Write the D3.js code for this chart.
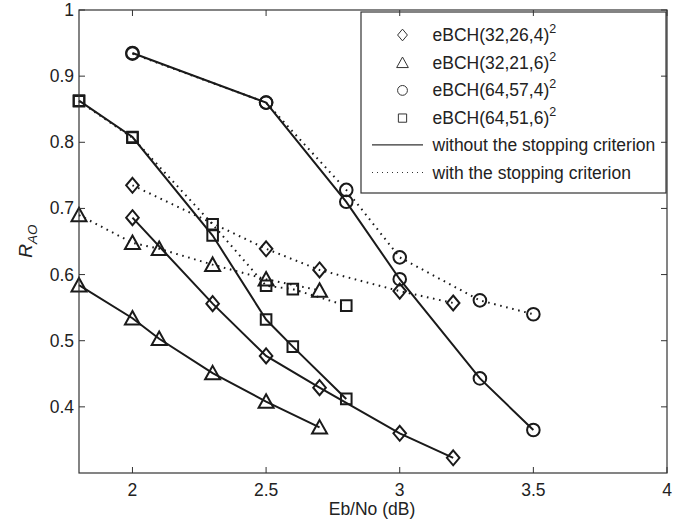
<!DOCTYPE html>
<html><head><meta charset="utf-8">
<script src="https://cdn.jsdelivr.net/npm/d3@7"></script>
<style>body{margin:0;background:#fff}svg{display:block}text{font-family:"Liberation Sans",Arial,sans-serif;fill:#222}</style>
</head><body>
<script>
// ---- data ----
const xTicks = [2, 2.5, 3, 3.5, 4];
const yTicks = [0.4, 0.5, 0.6, 0.7, 0.8, 0.9, 1];

const dSolidX = [2, 2.3, 2.5, 2.7, 3.0, 3.2];
const dSolidY = [0.686, 0.556, 0.477, 0.429, 0.360, 0.323];
const dDotX = [2, 2.5, 2.7, 3.0, 3.2];
const dDotY = [0.735, 0.639, 0.607, 0.575, 0.557];

const tSolidX = [1.8, 2, 2.1, 2.3, 2.5, 2.7];
const tSolidY = [0.584, 0.534, 0.503, 0.451, 0.408, 0.369];
const tDotX = [1.8, 2, 2.1, 2.3, 2.5, 2.7];
const tDotY = [0.690, 0.648, 0.639, 0.615, 0.593, 0.576];

const cSolidX = [2, 2.5, 2.8, 3.0, 3.3, 3.5];
const cSolidY = [0.935, 0.860, 0.710, 0.593, 0.443, 0.365];
const cDotX = [2, 2.5, 2.8, 3.0, 3.3, 3.5];
const cDotY = [0.934, 0.860, 0.728, 0.626, 0.561, 0.540];

const sSolidX = [1.8, 2, 2.3, 2.5, 2.6, 2.8];
const sSolidY = [0.863, 0.808, 0.659, 0.532, 0.491, 0.412];
const sDotX = [1.8, 2, 2.3, 2.5, 2.6, 2.8];
const sDotY = [0.862, 0.807, 0.676, 0.583, 0.578, 0.553];

const legendCodes = ["eBCH(32,26,4)", "eBCH(32,21,6)", "eBCH(64,57,4)", "eBCH(64,51,6)"];
const legendMarkers = ["diamond", "triangle", "circle", "square"];
const legendLines = ["without the stopping criterion", "with the stopping criterion"];

// ---- layout ----
const W = 686, H = 523;
const L = 79, R = 667, T = 10, B = 473;
const FS = 17.5;
const svg = d3.select("body").append("svg").attr("width", W).attr("height", H);
const x = d3.scaleLinear().domain([1.8, 4]).range([L, R]);
const y = d3.scaleLinear().domain([0.3, 1]).range([B, T]);
const ink = "#1a1a1a";

function markerPath(type, s) {
  const p = d3.path();
  if (type === "diamond") { const a = 6.3*s, b = 7.5*s; p.moveTo(0,-b); p.lineTo(a,0); p.lineTo(0,b); p.lineTo(-a,0); p.closePath(); }
  else if (type === "triangle") { const a = 7.5*s, h = 12.5*s; p.moveTo(0,-h/2-1*s); p.lineTo(a,h/2); p.lineTo(-a,h/2); p.closePath(); }
  else if (type === "circle") { p.arc(0,0,6.3*s,0,2*Math.PI); p.closePath(); }
  else { const a = 5.3*s; p.rect(-a,-a,2*a,2*a); }
  return p.toString();
}

const series = [
  {xs: dSolidX, ys: dSolidY, m: "diamond", dot: false},
  {xs: dDotX, ys: dDotY, m: "diamond", dot: true},
  {xs: tSolidX, ys: tSolidY, m: "triangle", dot: false},
  {xs: tDotX, ys: tDotY, m: "triangle", dot: true},
  {xs: cSolidX, ys: cSolidY, m: "circle", dot: false},
  {xs: cDotX, ys: cDotY, m: "circle", dot: true},
  {xs: sSolidX, ys: sSolidY, m: "square", dot: false},
  {xs: sDotX, ys: sDotY, m: "square", dot: true}
];

const line = d3.line().x(d => x(d[0])).y(d => y(d[1]));
const plot = svg.append("g");
series.forEach(s => {
  const pts = s.xs.map((v, i) => [v, s.ys[i]]);
  plot.append("path").attr("d", line(pts)).attr("fill", "none").attr("stroke", ink)
    .attr("stroke-width", 2)
    .attr("stroke-dasharray", s.dot ? "1.6 4.6" : null);
  plot.selectAll(null).data(pts).enter().append("path")
    .attr("transform", d => `translate(${x(d[0])},${y(d[1])})`)
    .attr("d", markerPath(s.m, 1)).attr("fill", "none").attr("stroke", ink).attr("stroke-width", 2);
});

// axes box
const axes = svg.append("g");
axes.append("rect").attr("x", L).attr("y", T).attr("width", R - L).attr("height", B - T)
  .attr("fill", "none").attr("stroke", "#333").attr("stroke-width", 1.2);

// legend
const lg = svg.append("g");
const lgL = 361, lgT = 12, lgR = 666, lgB = 193;
lg.append("rect").attr("x", lgL).attr("y", lgT).attr("width", lgR - lgL).attr("height", lgB - lgT)
  .attr("fill", "#fff").attr("stroke", "#333").attr("stroke-width", 1.2);
const rowY = i => 35 + i * 27.7;
legendCodes.forEach((c, i) => {
  lg.append("path").attr("transform", `translate(402.5,${rowY(i)})`).attr("d", markerPath(legendMarkers[i], 0.78))
    .attr("fill", "none").attr("stroke", "#333").attr("stroke-width", 1);
  const t = lg.append("text").attr("x", 432.5).attr("y", rowY(i) + 6).attr("font-size", FS);
  t.append("tspan").text(c);
  t.append("tspan").attr("dy", -8).attr("font-size", 12.5).text("2");
});
legendLines.forEach((c, j) => {
  const yy = rowY(4 + j) - 1;
  lg.append("line").attr("x1", 372).attr("x2", 423).attr("y1", yy).attr("y2", yy)
    .attr("stroke", "#333").attr("stroke-width", j ? 1 : 1.2).attr("stroke-dasharray", j ? "1 4" : null);
  lg.append("text").attr("x", 432.5).attr("y", yy + 6).attr("font-size", FS).text(c);
});

// ticks (inside, all four sides)
const tk = svg.append("g").attr("stroke", "#333").attr("stroke-width", 1);
xTicks.forEach(v => {
  tk.append("line").attr("x1", x(v)).attr("x2", x(v)).attr("y1", B).attr("y2", B - 6);
  tk.append("line").attr("x1", x(v)).attr("x2", x(v)).attr("y1", T).attr("y2", T + 6);
});
yTicks.forEach(v => {
  tk.append("line").attr("x1", L).attr("x2", L + 6).attr("y1", y(v)).attr("y2", y(v));
  tk.append("line").attr("x1", R).attr("x2", R - 6).attr("y1", y(v)).attr("y2", y(v));
});

// tick labels
xTicks.forEach(v => {
  svg.append("text").attr("x", x(v)).attr("y", 496).attr("text-anchor", "middle").attr("font-size", FS).text(d3.format("")(v));
});
yTicks.forEach(v => {
  svg.append("text").attr("x", 74).attr("y", y(v) + 6).attr("text-anchor", "end").attr("font-size", FS).text(d3.format("")(v));
});

// axis titles
svg.append("text").attr("x", 372).attr("y", 515).attr("text-anchor", "middle").attr("font-size", FS).text("Eb/No (dB)");
const yl = svg.append("text").attr("transform", "translate(32,241) rotate(-90)").attr("text-anchor", "middle").attr("font-size", 19);
yl.append("tspan").attr("font-style", "italic").text("R");
yl.append("tspan").attr("dy", 5).attr("font-size", 13.5).attr("font-style", "italic").text("AO");
</script>
</body></html>
